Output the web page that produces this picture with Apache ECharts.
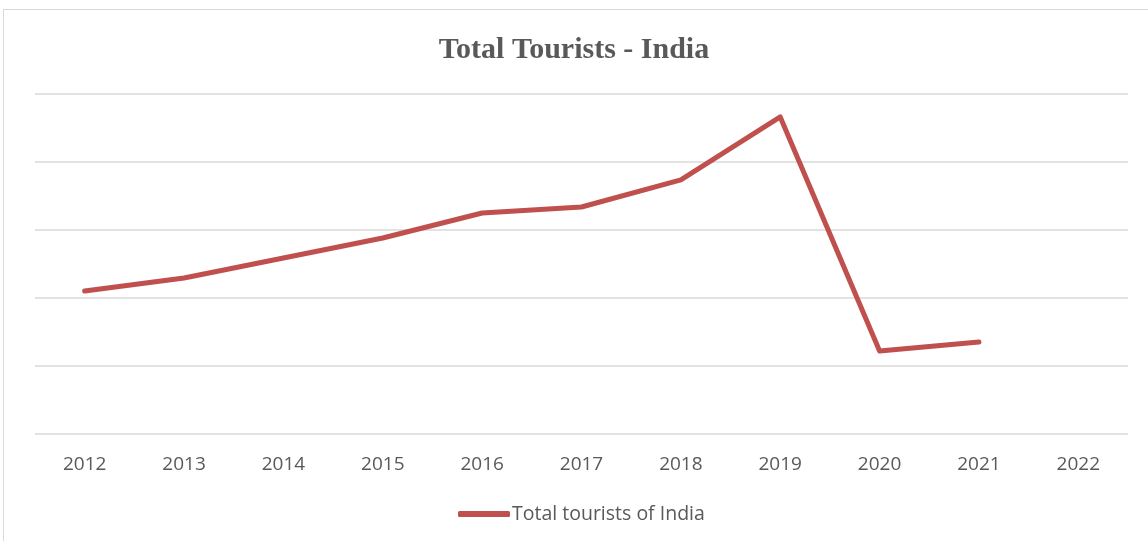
<!DOCTYPE html>
<html><head><meta charset="utf-8">
<script src="https://cdn.jsdelivr.net/npm/echarts@6/dist/echarts.min.js"></script>
<style>
html,body{margin:0;padding:0;background:#fff;overflow:hidden;}
#frame{position:absolute;left:3px;top:9px;width:1160px;height:560px;border:1.5px solid #d9d9d9;box-sizing:border-box;}
#c{position:absolute;left:0;top:0;width:1148px;height:541px;}
</style></head>
<body>
<div id="frame"></div>
<div id="c"></div>
<script>
const categories = ['2012','2013','2014','2015','2016','2017','2018','2019','2020','2021','2022'];
const totalTourists = [1051,1147,1294,1441,1625,1669,1868,2331,610,676,null];
const seriesName = 'Total tourists of India';
const titleText = 'Total Tourists - India';

const chart = echarts.init(document.getElementById('c'));
chart.setOption({
  animation:false,
  title:{text:titleText,left:'center',top:30,textStyle:{fontFamily:'Liberation Serif',fontWeight:'bold',fontSize:30,color:'#595959'}},
  grid:{left:35,right:20,top:94,bottom:107},
  legend:{bottom:12,left:453,itemWidth:52,itemHeight:6,itemGap:4,
    textStyle:{fontFamily:'Open Sans',fontSize:19.5,color:'#595959',padding:[0,0,0,-3]},
    data:[{name:seriesName,icon:'roundRect'}]},
  xAxis:{type:'category',data:categories,boundaryGap:true,
    axisLine:{show:false},axisTick:{show:false},
    axisLabel:{margin:21,fontFamily:'Open Sans',fontSize:19,color:'#595959'}},
  yAxis:{type:'value',min:0,max:2500,interval:500,axisLabel:{show:false},
    axisLine:{show:false},axisTick:{show:false},
    splitLine:{lineStyle:{color:'#d9d9d9',width:1.5}}},
  series:[{name:seriesName,type:'line',data:totalTourists,showSymbol:false,symbol:'none',
    lineStyle:{color:'#C0504D',width:5,cap:'round',join:'round'},itemStyle:{color:'#C0504D'}}]
});
</script>
</body></html>
